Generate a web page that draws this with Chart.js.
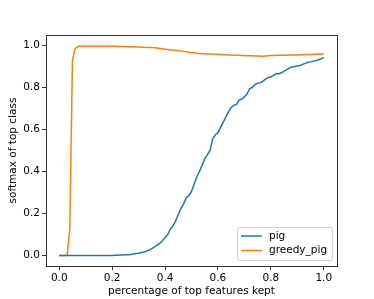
<!DOCTYPE html>
<html>
<head>
<meta charset="utf-8">
<script src="https://cdn.jsdelivr.net/npm/chart.js@4"></script>
<style>
  body { margin: 0; background: #fff; }
  #wrap { width: 374px; height: 299px; }
</style>
</head>
<body>
<div id="wrap"><canvas id="myChart" width="374" height="299"></canvas></div>
<script>
// x = fraction of top features kept, 0.00 .. 1.00 in steps of 0.01
var xValues = [];
for (let i = 0; i <= 100; i++) xValues.push(i / 100);

var pigValues = [
  0,0,0,0,0,0,0,0,0,0,
  0,0,0,0,0,0,0,0,0,0,
  0,0.001,0.001,0.002,0.002,0.003,0.004,0.005,0.007,0.009,
  0.011,0.014,0.017,0.021,0.026,0.033,0.041,0.05,0.058,0.07,
  0.085,0.1,0.125,0.14,0.165,0.195,0.225,0.245,0.275,0.285,
  0.305,0.34,0.375,0.4,0.43,0.46,0.48,0.5,0.555,0.575,
  0.585,0.61,0.635,0.66,0.685,0.705,0.715,0.72,0.74,0.745,
  0.755,0.77,0.795,0.8,0.815,0.82,0.822,0.83,0.84,0.848,
  0.85,0.858,0.865,0.866,0.87,0.878,0.885,0.892,0.898,0.9,
  0.902,0.905,0.91,0.915,0.92,0.922,0.925,0.928,0.932,0.937,
  0.943
];
var greedyValues = [
  0,0,0,0,0.13,0.93,0.985,0.995,0.997,0.997,
  0.997,0.997,0.997,0.997,0.997,0.997,0.997,0.997,0.996,0.996,
  0.996,0.996,0.995,0.995,0.995,0.995,0.994,0.994,0.994,0.993,
  0.993,0.992,0.992,0.991,0.991,0.99,0.989,0.988,0.986,0.984,
  0.982,0.981,0.979,0.978,0.977,0.975,0.974,0.972,0.97,0.968,
  0.967,0.965,0.963,0.962,0.961,0.96,0.96,0.959,0.959,0.958,
  0.958,0.957,0.957,0.956,0.955,0.955,0.954,0.953,0.953,0.952,
  0.952,0.951,0.951,0.951,0.95,0.95,0.949,0.949,0.95,0.951,
  0.952,0.952,0.953,0.953,0.953,0.954,0.954,0.955,0.955,0.955,
  0.955,0.956,0.956,0.957,0.957,0.957,0.958,0.958,0.959,0.958,
  0.962
];
var xTicks = [0, 0.2, 0.4, 0.6, 0.8, 1.0];
var yTicks = [0, 0.2, 0.4, 0.6, 0.8, 1.0];
var seriesLabels = ["pig", "greedy_pig"];
var seriesColors = ["#1f77b4", "#ff7f0e"];

const FONT = { family: 'DejaVu Sans', size: 10.5 };

const boxPlugin = {
  id: 'box',
  afterDraw(chart) {
    const c = chart.ctx, a = chart.chartArea;
    c.save();
    c.strokeStyle = '#333';
    c.lineWidth = 1;
    c.strokeRect(Math.round(a.left) + 0.5, Math.round(a.top) + 0.5,
                 Math.round(a.right - a.left), Math.round(a.bottom - a.top));
    // legend inside, lower right
    const w = 95, h = 33;
    const lx = a.right - 5 - w, ly = a.bottom - 6 - h;
    c.fillStyle = 'rgba(255,255,255,0.8)';
    c.strokeStyle = '#d0d0d0';
    c.beginPath();
    c.roundRect(lx + 0.5, ly + 0.5, w, h, 2);
    c.fill(); c.stroke();
    c.font = '10.5px "DejaVu Sans"';
    c.textBaseline = 'middle';
    chart.data.datasets.forEach((ds, i) => {
      const yy = ly + 9 + i * 14.5;
      c.strokeStyle = ds.borderColor;
      c.lineWidth = 1.5;
      c.beginPath(); c.moveTo(lx + 4, yy); c.lineTo(lx + 25, yy); c.stroke();
      c.fillStyle = '#000';
      c.fillText(ds.label, lx + 32, yy);
    });
    c.restore();
  }
};

const ctx = document.getElementById('myChart');
new Chart(ctx, {
  type: 'line',
  data: {
    datasets: [pigValues, greedyValues].map((vals, i) => ({
      label: seriesLabels[i],
      data: vals.map((v, j) => ({ x: xValues[j], y: v })),
      borderColor: seriesColors[i],
      borderWidth: 1.5,
      pointRadius: 0,
      fill: false,
      tension: 0
    }))
  },
  options: {
    responsive: false,
    animation: false,
    layout: { padding: { left: 0, right: 37, top: 35, bottom: 0 } },
    plugins: { legend: { display: false }, tooltip: { enabled: false } },
    scales: {
      x: {
        type: 'linear', min: -0.05, max: 1.05,
        afterBuildTicks: s => { s.ticks = xTicks.map(v => ({ value: v })); },
        afterFit: s => { s.height = 33; },
        grid: { drawOnChartArea: false, color: '#333', tickLength: 4 },
        border: { display: false },
        ticks: { color: '#000', font: FONT, padding: 2,
                 maxRotation: 0, callback: v => v.toFixed(1) },
        title: { display: true, text: 'percentage of top features kept', color: '#000',
                 font: FONT, padding: { top: 1, bottom: 1 } }
      },
      y: {
        type: 'linear', min: -0.05, max: 1.05,
        afterBuildTicks: s => { s.ticks = yTicks.map(v => ({ value: v })); },
        afterFit: s => { s.width = 46; },
        grid: { drawOnChartArea: false, color: '#333', tickLength: 4 },
        border: { display: false },
        ticks: { color: '#000', font: FONT, padding: 2,
                 callback: v => v.toFixed(1) },
        title: { display: true, text: 'softmax of top class', color: '#000',
                 font: FONT, padding: { top: 7, bottom: 0 } }
      }
    }
  },
  plugins: [boxPlugin]
});
</script>
</body>
</html>
